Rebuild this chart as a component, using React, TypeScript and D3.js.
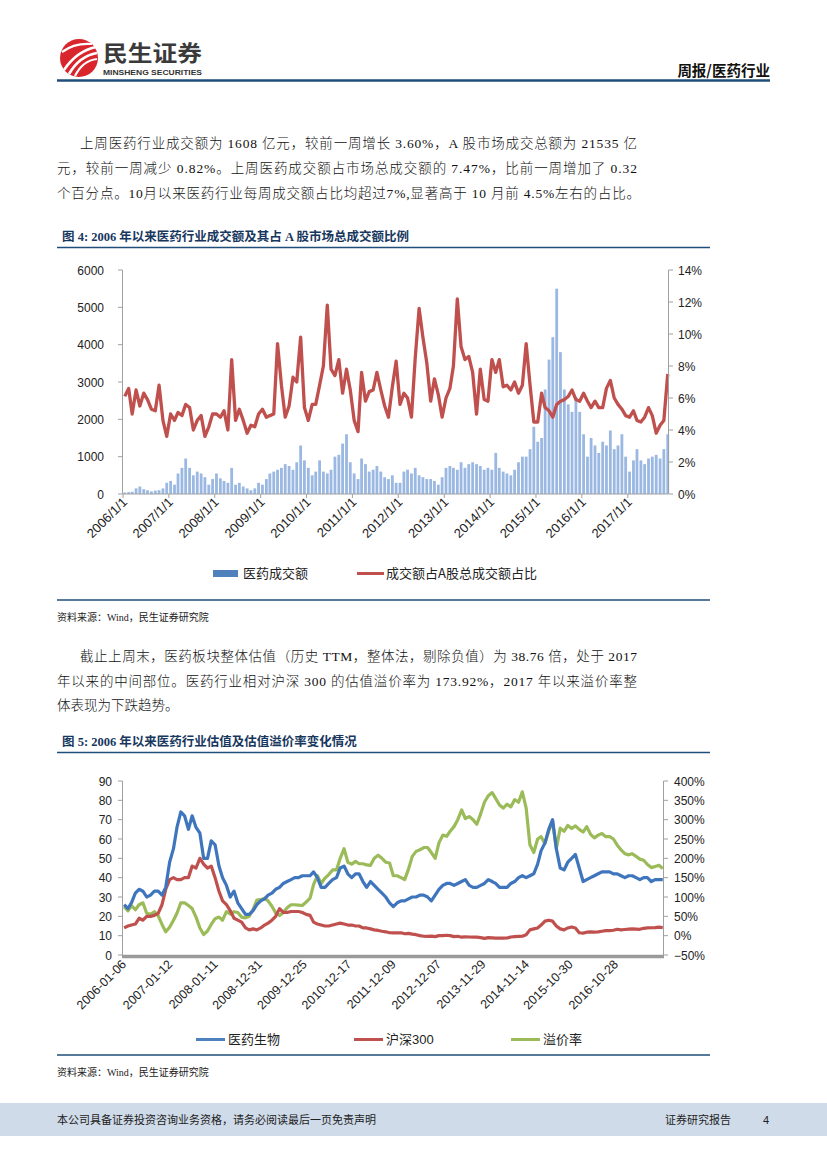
import * as d3 from 'd3';

// monthly samples, Jan 2006 .. Nov 2017 (143 months)
const volume = [
  40, 50, 60, 150, 200, 130, 100, 70, 90, 100, 150, 300,
  350, 250, 550, 700, 950, 700, 500, 600, 550, 450, 250, 400,
  550, 420, 350, 300, 700, 250, 300, 200, 150, 100, 150, 300,
  250, 400, 550, 600, 650, 700, 800, 750, 650, 850, 1300, 900,
  700, 500, 600, 900, 600, 550, 650, 1000, 1050, 1350, 1600, 850,
  550, 400, 950, 800, 600, 650, 750, 600, 450, 400, 500, 300,
  300, 600, 650, 550, 700, 500, 450, 400, 400, 350, 250, 450,
  700, 750, 700, 650, 850, 700, 800, 850, 800, 750, 650, 700,
  650, 1100, 700, 600, 550, 500, 650, 850, 1000, 1000, 1200, 1800,
  1400, 1500, 2800, 3600, 4200, 5500, 3800, 2800, 2400, 2200, 2600, 2200,
  1600, 1000, 1500, 1300, 1100, 1400, 1300, 1700, 1200, 1300, 1600, 1000,
  600, 900, 1200, 900, 800, 950, 1000, 1050, 950, 1200, 1600,
];

const shareRatio = [
  6.1, 6.6, 5.0, 6.5, 5.5, 6.3, 5.9, 5.3, 5.2, 6.8, 4.6, 3.6,
  5.0, 4.6, 5.1, 4.9, 5.6, 5.4, 4.0, 4.6, 4.9, 3.6, 4.2, 5.0,
  5.0, 4.8, 5.2, 4.0, 8.4, 4.6, 5.3, 4.6, 3.8, 4.3, 4.2, 5.0,
  5.3, 4.8, 4.9, 5.0, 9.4, 6.8, 4.8, 5.5, 7.3, 7.0, 9.8, 5.4,
  4.6, 5.6, 5.6, 6.8, 8.0, 11.8, 7.8, 7.4, 8.4, 6.3, 7.8, 6.5,
  4.6, 3.9, 7.6, 5.8, 6.4, 6.5, 7.6, 6.5, 5.5, 4.8, 6.7, 8.3,
  5.6, 6.3, 6.0, 4.8, 8.5, 11.6, 9.8, 8.2, 5.8, 7.2, 6.2, 4.8,
  6.0, 6.6, 8.0, 12.2, 9.2, 8.4, 8.6, 7.6, 5.0, 7.8, 5.9, 5.8,
  8.4, 7.6, 8.4, 6.7, 6.8, 6.5, 7.0, 6.3, 6.8, 9.4, 6.8, 4.5,
  4.5, 6.3, 5.4, 5.2, 4.8, 5.6, 5.8, 5.9, 6.1, 6.5, 5.9, 5.8,
  6.3, 5.8, 5.4, 5.8, 5.4, 5.4, 6.6, 7.1, 6.0, 5.6, 5.3, 4.9,
  4.8, 5.2, 4.6, 4.5, 4.8, 5.4, 4.9, 3.8, 4.3, 4.6, 7.5,
];

const pePharma = [
  26, 24, 27, 32, 34, 33, 30, 31, 33, 33, 31, 35,
  48, 55, 66, 74, 72, 65, 72, 66, 63, 50, 50, 59,
  57, 46, 40, 36, 30, 33, 27, 24, 21, 21, 23, 26,
  28, 29, 31, 32, 34, 35, 37, 38, 39, 40, 40, 41,
  41, 41, 43, 40, 35, 35, 37, 39, 40, 45, 46, 42,
  40, 42, 42, 38, 35, 38, 36, 34, 32, 30, 27, 25,
  27, 28, 28, 29, 30, 30, 31, 31, 30, 28, 31, 34,
  36, 37, 37, 36, 37, 38, 39, 36, 35, 35, 36, 37,
  39, 38, 37, 35, 35, 35, 37, 38, 40, 41, 40, 41,
  42, 47, 54, 58, 65, 70, 55, 45, 44, 48, 50, 52,
  45, 38, 39, 40, 41, 42, 43, 43, 43, 42, 42, 41,
  40, 41, 41, 40, 39, 40, 40, 38, 39, 39, 39,
];

const peCsi300 = [
  14, 15, 15.5, 16, 19, 18, 20, 20, 20.5, 21.5, 26, 34,
  39, 40, 39, 39, 40, 40, 46, 45, 50, 47, 45, 46,
  40, 33, 28, 26, 23, 19, 18, 17, 14, 13, 13.5, 13,
  14, 15.5, 16.5, 18, 20, 24, 22, 22, 22.5, 22.5, 22.5, 22,
  21, 20.5, 17, 16, 15.5, 15, 15, 15.5, 16, 16.5, 16, 15.5,
  15.5, 15, 15, 14, 14, 13.5, 13, 12.7, 12.3, 12, 11.5, 11.4,
  11.4, 11.5, 11, 11.2, 10.8, 10.5, 10, 9.7, 9.6, 9.8, 9.5, 10,
  10, 10.2, 10, 9.5, 9.7, 9.2, 9.4, 9.3, 9.2, 9.2, 9, 8.6,
  9.0, 8.9, 8.7, 8.8, 8.7, 8.8, 9.3, 9.5, 9.6, 9.7, 10.5, 13,
  13.5, 14, 15.5, 17.5, 18, 17.5, 15, 13.5, 13, 14, 14.5, 14,
  11.5, 11.3, 11.8, 12, 11.8, 12, 12.3, 12.6, 12.6, 12.8, 13.3, 13,
  13.2, 13.4, 13.5, 13.4, 13.3, 13.8, 14, 14.1, 14.2, 14.4, 14.2,
];

const premium = [
  75, 64, 78, 67, 80, 85, 58, 55, 62, 52, 29, 10,
  22, 40, 58, 85, 85, 78, 70, 48, 20, 3, 12, 29,
  44, 48, 40, 62, 56, 62, 60, 48, 46, 50, 68, 92,
  93, 97, 90, 76, 59, 52, 60, 72, 80, 80, 79, 78,
  87, 97, 132, 155, 135, 149, 158, 170, 170, 200, 225, 190,
  185, 192, 186, 186, 183, 182, 200, 208, 200, 190, 188, 155,
  155, 150, 145, 172, 205, 218, 222, 228, 228, 215, 200, 240,
  260, 257, 270, 282, 300, 325, 303, 308, 300, 288, 315, 345,
  362, 370, 355, 338, 330, 340, 333, 352, 345, 372, 330, 235,
  215, 250, 256, 238, 270, 295, 225, 278, 270, 285, 277, 284,
  275, 268, 282, 262, 253, 260, 264, 256, 256, 250, 234, 222,
  212, 209, 212, 205, 198, 195, 184, 176, 179, 182, 174,
];

const volTickLabels = ['2006/1/1', '2007/1/1', '2008/1/1', '2009/1/1', '2010/1/1', '2011/1/1',
  '2012/1/1', '2013/1/1', '2014/1/1', '2015/1/1', '2016/1/1', '2017/1/1'];
const peTickLabels = ['2006-01-06', '2007-01-12', '2008-01-11', '2008-12-31', '2009-12-25', '2010-12-17',
  '2011-12-09', '2012-12-07', '2013-11-29', '2014-11-14', '2015-10-30', '2016-10-28'];
const volLeftTicks = [0, 1000, 2000, 3000, 4000, 5000, 6000];
const volRightTicks = [0, 2, 4, 6, 8, 10, 12, 14];
const peLeftTicks = [0, 10, 20, 30, 40, 50, 60, 70, 80, 90];
const peRightTicks = [-50, 0, 50, 100, 150, 200, 250, 300, 350, 400];

const monthDates = d3.timeMonth.range(new Date(2006, 0, 1), new Date(2017, 10, 2)).map(d => d3.timeDay.offset(d, 14));

const serif = '"Liberation Serif", "Noto Sans CJK SC", serif';
const sans = '"Liberation Sans", "Noto Sans CJK SC", sans-serif';
const cjk = '"Noto Sans CJK SC", sans-serif';
const BLUE = '#4f81bd';
const RED = '#c0504d';
const GREEN = '#9bbb59';
const AXIS = '#a0a0a0';
const NAVY = '#1f4e79';

function VolumeChart() {
  const x = d3.scaleTime().domain([new Date(2006, 0, 1), new Date(2017, 10, 17)]).range([123, 668]);
  const yL = d3.scaleLinear().domain([0, 6000]).range([494, 270]);
  const yR = d3.scaleLinear().domain([0, 14]).range([494, 270]);
  const line = d3.line<number>().x((_, i) => x(monthDates[i])).y(d => yR(d));
  const parse = d3.timeParse('%Y/%m/%d');
  return (
    <g>
      {volume.map((v, i) => (
        <rect key={i} x={x(monthDates[i]) - 1.4} y={yL(v)} width={2.8} height={yL(0) - yL(v)} fill="#9ab8e2" />
      ))}
      <path d={line(shareRatio) || ''} fill="none" stroke={RED} strokeWidth={3.3} strokeLinejoin="round" />
      <line x1={123} x2={668} y1={494} y2={494} stroke={AXIS} strokeWidth={1} />
      <line x1={122.5} x2={122.5} y1={270} y2={494} stroke={AXIS} />
      <line x1={668.5} x2={668.5} y1={270} y2={494} stroke={AXIS} />
      {volLeftTicks.map(t => (
        <g key={t}>
          <line x1={118} x2={122.5} y1={yL(t)} y2={yL(t)} stroke={AXIS} />
          <text x={104} y={yL(t) + 4.5} textAnchor="end" fontFamily={sans} fontSize={12} fill="#222">{t}</text>
        </g>
      ))}
      {volRightTicks.map(t => (
        <g key={t}>
          <line x1={668.5} x2={673} y1={yR(t)} y2={yR(t)} stroke={AXIS} />
          <text x={678} y={yR(t) + 4.5} fontFamily={sans} fontSize={12} fill="#222">{t}%</text>
        </g>
      ))}
      {volTickLabels.map(l => {
        const px = x(parse(l)!);
        return (
          <g key={l}>
            <line x1={px} x2={px} y1={494} y2={498} stroke={AXIS} />
            <text transform={`translate(${px + 5},${503}) rotate(-45)`} textAnchor="end" fontFamily={sans} fontSize={13} fill="#222">{l}</text>
          </g>
        );
      })}
      <rect x={213} y={570} width={25} height={7} fill={BLUE} />
      <text x={243} y={578} fontFamily={cjk} fontSize={13} fill="#222">医药成交额</text>
      <line x1={357} x2={384} y1={573.5} y2={573.5} stroke={RED} strokeWidth={3} />
      <text x={386} y={578} fontFamily={cjk} fontSize={13} fill="#222">成交额占A股总成交额占比</text>
    </g>
  );
}

function ValuationChart() {
  const x = d3.scaleTime().domain([new Date(2006, 0, 6), new Date(2017, 10, 17)]).range([123, 663]);
  const yL = d3.scaleLinear().domain([0, 90]).range([955, 781]);
  const yR = d3.scaleLinear().domain([-50, 400]).range([955, 781]);
  const lineL = d3.line<number>().x((_, i) => x(monthDates[i])).y(d => yL(d));
  const lineR = d3.line<number>().x((_, i) => x(monthDates[i])).y(d => yR(d));
  const parse = d3.timeParse('%Y-%m-%d');
  const legend = [
    { label: '医药生物', color: BLUE, x: 196 },
    { label: '沪深300', color: RED, x: 354 },
    { label: '溢价率', color: GREEN, x: 511 },
  ];
  return (
    <g>
      <line x1={122.5} x2={122.5} y1={781} y2={956} stroke={AXIS} />
      <line x1={663.5} x2={663.5} y1={781} y2={956} stroke={AXIS} />
      {peLeftTicks.map(t => (
        <g key={t}>
          <line x1={118} x2={122.5} y1={yL(t)} y2={yL(t)} stroke={AXIS} />
          <text x={112} y={yL(t) + 4.5} textAnchor="end" fontFamily={sans} fontSize={12} fill="#222">{t}</text>
        </g>
      ))}
      {peRightTicks.map(t => (
        <g key={t}>
          <line x1={663.5} x2={668} y1={yR(t)} y2={yR(t)} stroke={AXIS} />
          <text x={674} y={yR(t) + 4.5} fontFamily={sans} fontSize={12} fill="#222">{t < 0 ? `\u2212${-t}` : t}%</text>
        </g>
      ))}
      <path d={lineR(premium) || ''} fill="none" stroke={GREEN} strokeWidth={3.2} strokeLinejoin="round" />
      <path d={lineL(peCsi300) || ''} fill="none" stroke={RED} strokeWidth={3.2} strokeLinejoin="round" />
      <path d={lineL(pePharma) || ''} fill="none" stroke="#3f75bd" strokeWidth={3.2} strokeLinejoin="round" />
      <line x1={122} x2={664} y1={956.5} y2={956.5} stroke="#9a9a9a" strokeWidth={3.5} />
      {peTickLabels.map(l => {
        const px = x(parse(l)!);
        return (
          <text key={l} transform={`translate(${px + 4},${965}) rotate(-45)`} textAnchor="end" fontFamily={sans} fontSize={12.5} fill="#222">{l}</text>
        );
      })}
      {legend.map(d => (
        <g key={d.label}>
          <line x1={d.x} x2={d.x + 29} y1={1039.5} y2={1039.5} stroke={d.color} strokeWidth={3} />
          <text x={d.x + 32} y={1044} fontFamily={sans} fontSize={13} fill="#222">{d.label}</text>
        </g>
      ))}
    </g>
  );
}

function Para({ lines }: { lines: { t: string; x: number; y: number; w?: number }[] }) {
  return (
    <g>
      {lines.map(l => (
        <text key={l.t} x={l.x} y={l.y} fontFamily={serif} fontWeight={300} fontSize={13.5} fill="#111"
          {...(l.w ? { textLength: l.w, lengthAdjust: 'spacing' } : {})}>{l.t}</text>
      ))}
    </g>
  );
}

export default function App() {
  return (
    <svg width={827} height={1169} style={{ position: 'absolute', left: 0, top: 0, background: '#fff' }}>
      {/* header */}
      <circle cx={79} cy={58} r={19} fill="#d9262c" />
      <path d="M64,70 C72,58 82,50 96,47" stroke="#fff" strokeWidth={2.6} fill="none" />
      <path d="M69,74 C76,62 85,55 97,53" stroke="#fff" strokeWidth={2.6} fill="none" />
      <path d="M75,76 C80,66 88,60 97,59" stroke="#fff" strokeWidth={2.2} fill="none" />
      <path d="M62,52 C70,46 80,43 92,44" stroke="#fff" strokeWidth={2.2} fill="none" />
      <text x={103} y={61} fontFamily={cjk} fontWeight="bold" fontSize={22} fill="#3a3a3a" textLength={99} lengthAdjust="spacingAndGlyphs">民生证券</text>
      <text x={103} y={75} fontFamily={sans} fontWeight="bold" fontSize={8} fill="#333" textLength={99} lengthAdjust="spacingAndGlyphs">MINSHENG SECURITIES</text>
      <text x={770} y={76} textAnchor="end" fontFamily={cjk} fontWeight="bold" fontSize={14.5} fill="#111">周报/医药行业</text>
      <line x1={57} x2={770} y1={80.5} y2={80.5} stroke={NAVY} strokeWidth={2.5} />

      <Para lines={[
        { t: '上周医药行业成交额为 1608 亿元，较前一周增长 3.60%，A 股市场成交总额为 21535 亿', x: 80, y: 148, w: 557 },
        { t: '元，较前一周减少 0.82%。上周医药成交额占市场总成交额的 7.47%，比前一周增加了 0.32', x: 57, y: 173, w: 580 },
        { t: '个百分点。10月以来医药行业每周成交额占比均超过7%,显著高于 10 月前 4.5%左右的占比。', x: 57, y: 198, w: 583 },
      ]} />

      <text x={62} y={241} fontFamily={serif} fontWeight="bold" fontSize={12.5} fill="#17375e">图 4: 2006 年以来医药行业成交额及其占 A 股市场总成交额比例</text>
      <line x1={57} x2={710} y1={247.5} y2={247.5} stroke={NAVY} strokeWidth={1.5} />
      <VolumeChart />
      <line x1={57} x2={710} y1={600} y2={600} stroke={NAVY} strokeWidth={1.5} />
      <text x={57} y={621} fontFamily={serif} fontSize={10} fill="#222">资料来源：Wind，民生证券研究院</text>

      <Para lines={[
        { t: '截止上周末，医药板块整体估值（历史 TTM，整体法，剔除负值）为 38.76 倍，处于 2017', x: 80, y: 661, w: 557 },
        { t: '年以来的中间部位。医药行业相对沪深 300 的估值溢价率为 173.92%，2017 年以来溢价率整', x: 57, y: 686, w: 580 },
        { t: '体表现为下跌趋势。', x: 57, y: 710 },
      ]} />

      <text x={62} y={746} fontFamily={serif} fontWeight="bold" fontSize={12.5} fill="#17375e">图 5: 2006 年以来医药行业估值及估值溢价率变化情况</text>
      <line x1={57} x2={710} y1={752.5} y2={752.5} stroke={NAVY} strokeWidth={1.5} />
      <ValuationChart />
      <line x1={57} x2={710} y1={1055} y2={1055} stroke={NAVY} strokeWidth={1.5} />
      <text x={57} y={1076} fontFamily={serif} fontSize={10} fill="#222">资料来源：Wind，民生证券研究院</text>

      {/* footer */}
      <rect x={0} y={1103} width={827} height={33} fill="#cfdbe9" />
      <text x={57} y={1124} fontFamily={cjk} fontSize={11} fill="#222">本公司具备证券投资咨询业务资格，请务必阅读最后一页免责声明</text>
      <text x={665} y={1124} fontFamily={cjk} fontSize={11} fill="#222">证券研究报告</text>
      <text x={763} y={1124} fontFamily={sans} fontSize={11} fill="#222">4</text>
    </svg>
  );
}
